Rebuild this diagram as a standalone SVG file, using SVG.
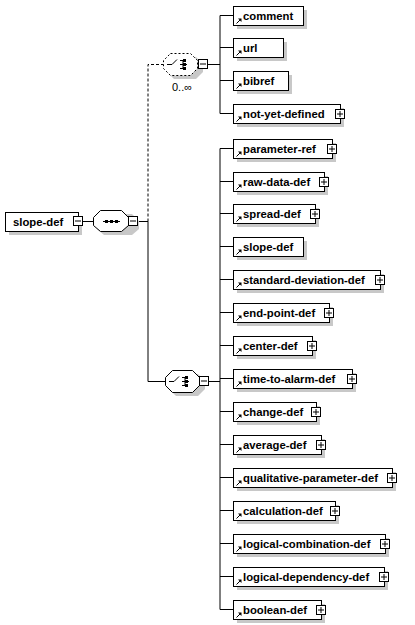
<svg xmlns="http://www.w3.org/2000/svg" width="415" height="625" viewBox="0 0 415 625">
<defs>
<style>
.bx{fill:#fff;stroke:#000;stroke-width:1}
.sh{fill:#c8c8c8}
.t{font-family:"Liberation Sans",Arial,sans-serif;font-weight:bold;font-size:11.3px;fill:#000}
.ln{stroke:#000;stroke-width:1;fill:none}
.dl{stroke:#000;stroke-width:1;fill:none;stroke-dasharray:3,2}
.pm{fill:#fff;stroke:#000;stroke-width:1}
</style>
<g id="plus"><rect class="pm" x="0.5" y="0.5" width="9" height="9"/><path class="ln" d="M2 5H8M5 2V8"/></g>
<g id="minus"><rect class="pm" x="0.5" y="0.5" width="9" height="9"/><path class="ln" d="M2 5H8"/></g>
<g id="arr"><path class="ln" d="M0.5 6.5L4 3"/><path d="M2 1.5H5.5V5Z" fill="#000"/></g>
</defs>
<rect width="415" height="625" fill="#fff"/>

<g id="connectors">
<path class="ln" d="M83 221.5H93M137 221.5H148M148 221.5V381.5H165"/>
<path class="dl" d="M148 221.5V64.5H163"/>
<path class="ln" d="M208 64.5H220M220 15.5V113.5M220 15.5H233M220 47.5H233M220 80.5H233M220 113.5H233"/>
<path class="ln" d="M209 381.5H220M220 148.5V609.5M220 148.5H233M220 181.5H233M220 213.5H233M220 246.5H233M220 279.5H233M220 312.5H233M220 345.5H233M220 378.5H233M220 411.5H233M220 444.5H233M220 477.5H233M220 510.5H233M220 543.5H233M220 576.5H233M220 609.5H233"/>
</g>

<g id="root">
<rect class="sh" x="9" y="216" width="73" height="19"/>
<rect class="bx" x="5.5" y="212.5" width="73" height="19"/>
<text class="t" x="13" y="226">slope-def</text>
<use href="#minus" x="73" y="216"/>
</g>

<g id="sequence">
<path class="sh" d="M104 214H132L139 221V229L132 235H104L97 229V221Z"/>
<path class="bx" d="M100.5 210.5H121.5L128.5 217.5V225.5L121.5 231.5H100.5L93.5 225.5V217.5Z"/>
<path class="ln" d="M103 221.5H120"/>
<rect x="105" y="220" width="3" height="3"/><rect x="110" y="220" width="3" height="3"/><rect x="115" y="220" width="3" height="3"/>
<use href="#minus" x="128" y="216"/>
</g>

<g id="choice1">
<path class="sh" d="M174 57H196L203 64V72L196 79H174L167 72V64Z"/>
<path d="M170.5 53.5H190.5L197.5 60.5V68.5L190.5 75.5H170.5L163.5 68.5V60.5Z" fill="#fff" stroke="#000" stroke-dasharray="2,2"/>
<path class="ln" d="M167 64.5H172L177 59.5M180 60.5H183V68.5H180M180 64.5H187"/>
<rect x="183" y="59" width="3" height="3"/><rect x="183" y="63" width="3" height="3"/><rect x="183" y="67" width="3" height="3"/>
<use href="#minus" x="198" y="59"/>
<text x="172" y="91" font-family="Liberation Sans,Arial,sans-serif" font-size="11" fill="#000">0..∞</text>
</g>

<g id="choice2">
<path class="sh" d="M176 374H198L205 381V389L198 396H176L169 389V381Z"/>
<path class="bx" d="M172.5 370.5H192.5L199.5 377.5V385.5L192.5 392.5H172.5L165.5 385.5V377.5Z"/>
<path class="ln" d="M169 381.5H174L179 376.5M182 377.5H185V385.5H182M182 381.5H189"/>
<rect x="185" y="376" width="3" height="3"/><rect x="185" y="380" width="3" height="3"/><rect x="185" y="384" width="3" height="3"/>
<use href="#minus" x="199" y="376"/>
</g>

<g id="e-comment"><rect class="sh" x="237" y="10" width="70" height="19"/><rect class="bx" x="233.5" y="6.5" width="70" height="19"/><use href="#arr" x="236" y="17"/><text class="t" x="243" y="20">comment</text></g>
<g id="e-url"><rect class="sh" x="237" y="42" width="50" height="19"/><rect class="bx" x="233.5" y="38.5" width="50" height="19"/><use href="#arr" x="236" y="49"/><text class="t" x="243" y="52">url</text></g>
<g id="e-bibref"><rect class="sh" x="237" y="75" width="55" height="19"/><rect class="bx" x="233.5" y="71.5" width="55" height="19"/><use href="#arr" x="236" y="82"/><text class="t" x="243" y="85">bibref</text></g>
<g id="e-not-yet-defined"><rect class="sh" x="237" y="108" width="107" height="19"/><rect class="bx" x="233.5" y="104.5" width="107" height="19"/><use href="#arr" x="236" y="115"/><text class="t" x="243" y="118">not-yet-defined</text><use href="#plus" x="335" y="109"/></g>

<g id="e-parameter-ref"><rect class="sh" x="237" y="143" width="99" height="19"/><rect class="bx" x="233.5" y="139.5" width="99" height="19"/><use href="#arr" x="236" y="150"/><text class="t" x="243" y="153">parameter-ref</text><use href="#plus" x="327" y="144"/></g>
<g id="e-raw-data-def"><rect class="sh" x="237" y="176" width="91" height="19"/><rect class="bx" x="233.5" y="172.5" width="91" height="19"/><use href="#arr" x="236" y="183"/><text class="t" x="243" y="186">raw-data-def</text><use href="#plus" x="319" y="177"/></g>
<g id="e-spread-def"><rect class="sh" x="237" y="208" width="82" height="19"/><rect class="bx" x="233.5" y="204.5" width="82" height="19"/><use href="#arr" x="236" y="215"/><text class="t" x="243" y="218">spread-def</text><use href="#plus" x="310" y="209"/></g>
<g id="e-slope-def"><rect class="sh" x="237" y="241" width="70" height="19"/><rect class="bx" x="233.5" y="237.5" width="70" height="19"/><use href="#arr" x="236" y="248"/><text class="t" x="243" y="251">slope-def</text></g>
<g id="e-standard-deviation-def"><rect class="sh" x="237" y="274" width="147" height="19"/><rect class="bx" x="233.5" y="270.5" width="147" height="19"/><use href="#arr" x="236" y="281"/><text class="t" x="243" y="284">standard-deviation-def</text><use href="#plus" x="375" y="275"/></g>
<g id="e-end-point-def"><rect class="sh" x="237" y="307" width="96" height="19"/><rect class="bx" x="233.5" y="303.5" width="96" height="19"/><use href="#arr" x="236" y="314"/><text class="t" x="243" y="317">end-point-def</text><use href="#plus" x="324" y="308"/></g>
<g id="e-center-def"><rect class="sh" x="237" y="340" width="79" height="19"/><rect class="bx" x="233.5" y="336.5" width="79" height="19"/><use href="#arr" x="236" y="347"/><text class="t" x="243" y="350">center-def</text><use href="#plus" x="307" y="341"/></g>
<g id="e-time-to-alarm-def"><rect class="sh" x="237" y="373" width="119" height="19"/><rect class="bx" x="233.5" y="369.5" width="119" height="19"/><use href="#arr" x="236" y="380"/><text class="t" x="243" y="383">time-to-alarm-def</text><use href="#plus" x="347" y="374"/></g>
<g id="e-change-def"><rect class="sh" x="237" y="406" width="83" height="19"/><rect class="bx" x="233.5" y="402.5" width="83" height="19"/><use href="#arr" x="236" y="413"/><text class="t" x="243" y="416">change-def</text><use href="#plus" x="311" y="407"/></g>
<g id="e-average-def"><rect class="sh" x="237" y="439" width="88" height="19"/><rect class="bx" x="233.5" y="435.5" width="88" height="19"/><use href="#arr" x="236" y="446"/><text class="t" x="243" y="449">average-def</text><use href="#plus" x="316" y="440"/></g>
<g id="e-qualitative-parameter-def"><rect class="sh" x="237" y="472" width="159" height="19"/><rect class="bx" x="233.5" y="468.5" width="159" height="19"/><use href="#arr" x="236" y="479"/><text class="t" x="243" y="482">qualitative-parameter-def</text><use href="#plus" x="387" y="473"/></g>
<g id="e-calculation-def"><rect class="sh" x="237" y="505" width="102" height="19"/><rect class="bx" x="233.5" y="501.5" width="102" height="19"/><use href="#arr" x="236" y="512"/><text class="t" x="243" y="515">calculation-def</text><use href="#plus" x="330" y="506"/></g>
<g id="e-logical-combination-def"><rect class="sh" x="237" y="538" width="152" height="19"/><rect class="bx" x="233.5" y="534.5" width="152" height="19"/><use href="#arr" x="236" y="545"/><text class="t" x="243" y="548">logical-combination-def</text><use href="#plus" x="380" y="539"/></g>
<g id="e-logical-dependency-def"><rect class="sh" x="237" y="571" width="151" height="19"/><rect class="bx" x="233.5" y="567.5" width="151" height="19"/><use href="#arr" x="236" y="578"/><text class="t" x="243" y="581">logical-dependency-def</text><use href="#plus" x="379" y="572"/></g>
<g id="e-boolean-def"><rect class="sh" x="237" y="604" width="88" height="19"/><rect class="bx" x="233.5" y="600.5" width="88" height="19"/><use href="#arr" x="236" y="611"/><text class="t" x="243" y="614">boolean-def</text><use href="#plus" x="316" y="605"/></g>
</svg>
